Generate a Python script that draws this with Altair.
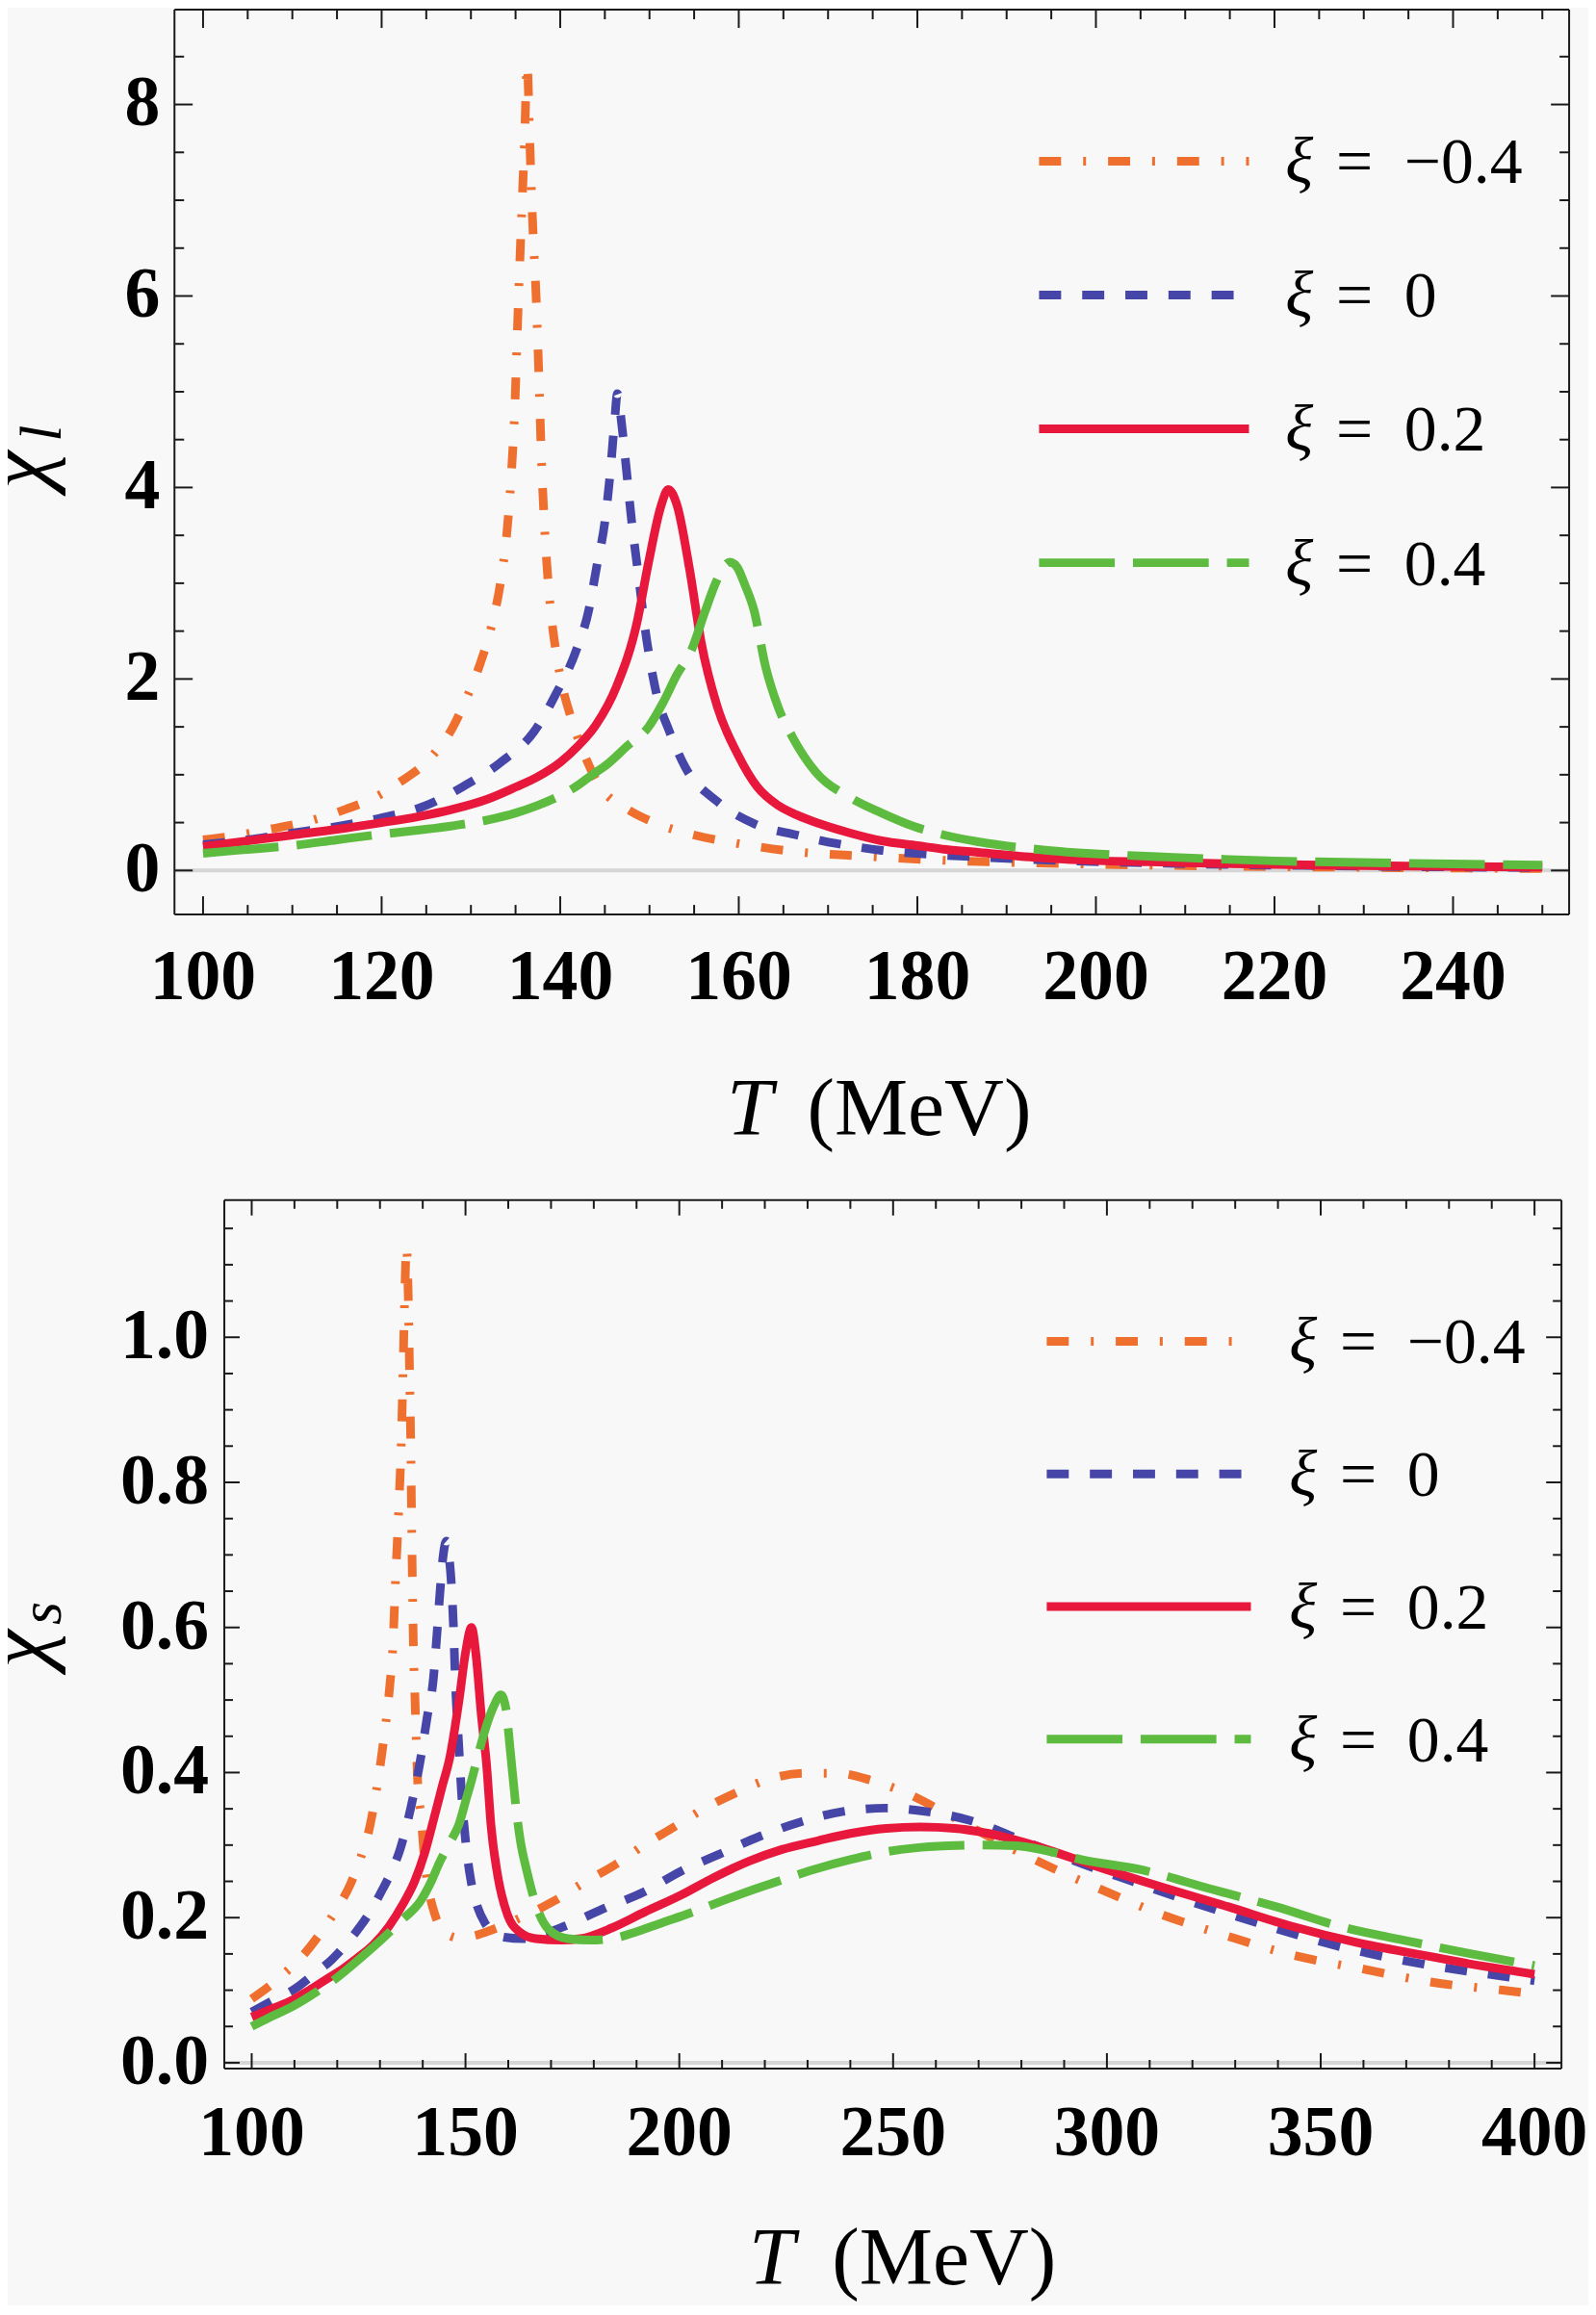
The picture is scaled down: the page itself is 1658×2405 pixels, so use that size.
import altair as alt
import pandas as pd

# ---------------- data: chi_l (top panel) ----------------
tl_m04 = [100, 104, 108, 112, 116, 119.2, 122, 125.5, 128, 129.6, 131, 132.3, 133.3, 134, 134.5, 134.9, 135.3, 135.7, 136.0, 136.3, 136.6, 136.9, 137.3, 137.6, 137.9, 138.3, 138.8, 139.5, 140.3, 141.1, 142.7, 144.5, 147.2, 150.8, 155, 160, 166, 174, 182, 190, 200, 215, 230, 250]
cl_m04 = [0.32, 0.37, 0.44, 0.52, 0.64, 0.76, 0.92, 1.18, 1.5, 1.82, 2.15, 2.55, 3.0, 3.5, 4.1, 4.8, 5.9, 6.9, 7.6, 8.42, 7.6, 6.8, 6.0, 5.2, 4.3, 3.5, 2.85, 2.3, 1.9, 1.63, 1.21, 0.87, 0.66, 0.49, 0.37, 0.28, 0.2, 0.15, 0.11, 0.085, 0.065, 0.045, 0.032, 0.02]

tl_0 = [100, 105, 110, 115, 120, 125, 129, 133.2, 137.3, 139.5, 141.8, 143.2, 144.1, 145, 145.6, 146.1, 146.4, 146.9, 147.4, 148, 148.6, 149.7, 150.8, 152.2, 154, 157.6, 161.7, 166.5, 171, 176, 181, 186, 194, 201, 210, 225, 250]
cl_0 = [0.27, 0.32, 0.39, 0.46, 0.55, 0.68, 0.87, 1.12, 1.48, 1.84, 2.3, 2.72, 3.18, 3.64, 4.15, 4.7, 4.98, 4.65, 4.2, 3.65, 3.2, 2.4, 1.84, 1.46, 1.08, 0.72, 0.49, 0.37, 0.28, 0.21, 0.17, 0.145, 0.11, 0.09, 0.07, 0.05, 0.03]

tl_02 = [100, 105, 110, 115, 120, 124, 128, 132, 135, 137.5, 140, 142, 144, 146.3, 148.6, 149.9, 151.3, 152.1, 153.1, 154.5, 155.8, 157.6, 159.9, 162.1, 164.4, 166.5, 169, 172.5, 176, 180, 183.2, 186.8, 194, 201, 206, 215, 225, 235, 250]
cl_02 = [0.25, 0.31, 0.37, 0.43, 0.5, 0.56, 0.64, 0.75, 0.87, 0.98, 1.13, 1.3, 1.52, 1.92, 2.59, 3.22, 3.81, 3.98, 3.81, 3.14, 2.38, 1.71, 1.21, 0.87, 0.68, 0.58, 0.49, 0.39, 0.31, 0.26, 0.22, 0.19, 0.13, 0.1, 0.09, 0.07, 0.055, 0.045, 0.035]

tl_04 = [100, 105, 110, 115, 119.2, 124, 128.2, 132, 135, 137.5, 139.5, 141.5, 143.6, 145.4, 147.5, 149.9, 151.5, 153.1, 154.7, 156.2, 157.4, 158.3, 159, 159.8, 160.7, 161.7, 163, 164.4, 166.1, 168.6, 172.5, 176, 179.6, 183, 186.8, 194.6, 203, 208, 220, 235, 250]
cl_04 = [0.18, 0.22, 0.26, 0.32, 0.37, 0.42, 0.47, 0.53, 0.6, 0.68, 0.76, 0.86, 1.0, 1.12, 1.3, 1.5, 1.75, 2.05, 2.3, 2.7, 3.0, 3.17, 3.22, 3.17, 2.98, 2.72, 2.13, 1.71, 1.38, 1.03, 0.76, 0.6, 0.46, 0.37, 0.3, 0.21, 0.16, 0.14, 0.1, 0.075, 0.055]

# ---------------- data: chi_s (bottom panel) ----------------
ts_m04 = [100, 104, 108, 112, 116, 120, 123, 125.5, 127.6, 129.1, 130.3, 131.4, 132.3, 133, 133.6, 134.4, 135, 135.4, 135.8, 136.2, 136.6, 136.9, 137.2, 137.5, 137.8, 138.2, 138.8, 139.6, 140.5, 141.5, 142.8, 145, 148.5, 152, 157, 164, 171, 177.6, 185, 192, 198.8, 206, 213.2, 221, 229, 237, 245, 253, 262, 272, 282, 290, 298.6, 312, 328, 343, 360, 376, 392.5, 400]
cs_m04 = [0.088, 0.105, 0.125, 0.148, 0.178, 0.213, 0.245, 0.283, 0.325, 0.373, 0.42, 0.47, 0.52, 0.572, 0.66, 0.765, 0.858, 0.955, 1.06, 1.125, 1.06, 0.96, 0.85, 0.7, 0.58, 0.5, 0.39, 0.34, 0.275, 0.235, 0.205, 0.18, 0.172, 0.175, 0.185, 0.203, 0.224, 0.248, 0.273, 0.301, 0.325, 0.351, 0.372, 0.391, 0.399, 0.399, 0.389, 0.372, 0.345, 0.313, 0.283, 0.261, 0.239, 0.206, 0.175, 0.149, 0.129, 0.111, 0.1, 0.095]

ts_0 = [100, 105, 110.4, 114.5, 118.7, 122, 125.4, 128, 130.6, 132.8, 134.7, 137.3, 139.2, 141, 142.5, 143.3, 144, 144.8, 145.5, 146.3, 146.8, 147.2, 147.6, 148.5, 149.1, 150, 151.3, 152.8, 154.5, 157, 159, 163.4, 168, 173.1, 182.1, 191.6, 200.4, 209.2, 218.8, 228.4, 238, 248.4, 258, 268, 280.4, 297.2, 306, 315.7, 335.1, 354.5, 373.9, 394.1, 400]
cs_0 = [0.07, 0.086, 0.103, 0.122, 0.142, 0.163, 0.188, 0.211, 0.239, 0.265, 0.294, 0.354, 0.409, 0.475, 0.53, 0.589, 0.646, 0.7, 0.719, 0.69, 0.65, 0.6, 0.53, 0.43, 0.369, 0.307, 0.25, 0.215, 0.193, 0.178, 0.173, 0.171, 0.177, 0.188, 0.212, 0.235, 0.264, 0.287, 0.312, 0.332, 0.346, 0.351, 0.346, 0.334, 0.306, 0.268, 0.25, 0.23, 0.193, 0.16, 0.136, 0.118, 0.113]

ts_02 = [100, 105, 109.7, 113.5, 117.2, 121, 124.6, 128.5, 132.1, 135.5, 138.1, 140.5, 142.5, 144.5, 146.3, 148.5, 150, 151.4, 152.5, 153.7, 154.9, 156, 157.5, 159.7, 162.7, 166.4, 172.4, 176.9, 184.3, 192, 200.4, 208, 216.4, 224, 232.4, 240, 248.4, 256.4, 264.4, 272.4, 284.4, 296.4, 313.5, 328.4, 343.3, 358.3, 373.2, 388.1, 400]
cs_02 = [0.063, 0.075, 0.087, 0.1, 0.114, 0.128, 0.144, 0.163, 0.188, 0.22, 0.25, 0.29, 0.334, 0.38, 0.42, 0.5, 0.565, 0.6, 0.56, 0.479, 0.413, 0.325, 0.259, 0.206, 0.18, 0.171, 0.169, 0.171, 0.186, 0.208, 0.231, 0.255, 0.278, 0.294, 0.306, 0.316, 0.323, 0.325, 0.323, 0.316, 0.297, 0.273, 0.241, 0.215, 0.188, 0.166, 0.149, 0.133, 0.122]

ts_04 = [100, 104, 109.7, 115, 120.1, 125, 130.6, 135, 139.6, 142, 144, 146.5, 148.5, 150, 151.5, 153, 154.5, 156.5, 158.3, 159.4, 160.4, 161.9, 163, 164.2, 166.4, 169.4, 173.9, 179.1, 185.8, 189.2, 196, 202.8, 210, 218, 225, 232.4, 240, 247.6, 255, 262.8, 270, 278.8, 286, 294, 308, 324.6, 339.6, 354.5, 369.4, 384.4, 400]
cs_04 = [0.05, 0.062, 0.078, 0.097, 0.118, 0.142, 0.171, 0.196, 0.224, 0.25, 0.277, 0.305, 0.329, 0.36, 0.391, 0.425, 0.457, 0.49, 0.507, 0.49, 0.435, 0.347, 0.3, 0.268, 0.219, 0.184, 0.171, 0.169, 0.173, 0.179, 0.193, 0.207, 0.223, 0.24, 0.254, 0.268, 0.28, 0.29, 0.296, 0.299, 0.3, 0.299, 0.292, 0.28, 0.266, 0.239, 0.215, 0.188, 0.169, 0.151, 0.134]

# legend values and tick labels
xi_values = ["\u22120.4", "0", "0.2", "0.4"]
top_x_labels = [100, 120, 140, 160, 180, 200, 220, 240]
top_y_labels = [0, 2, 4, 6, 8]
bot_x_labels = [100, 150, 200, 250, 300, 350, 400]
bot_y_labels = [0.0, 0.2, 0.4, 0.6, 0.8, 1.0]

# ---------------- styles ----------------
COLORS = ["#EF6F2E", "#4646A8", "#E8173C", "#5DBB3F"]
DASHES = [[23, 23, 3, 23], [23, 22], None, [79, 19]]
LW = 9
SERIF = "Liberation Serif"
BG = "#f8f8f8"
INK = "#1a1a1a"
LABEL_SIZE = 74
CHI_SIZE = 92
SUB_SIZE = 62
CHI_X = -133


def frame_rules(x0, W, H):
    out = []
    for xv in (x0, W):
        out.append(alt.Chart(pd.DataFrame({"f": [0]})).mark_rule(color=INK, strokeWidth=2).encode(
            x=alt.value(xv), y=alt.value(0), y2=alt.value(H)))
    for yv in (0, H):
        out.append(alt.Chart(pd.DataFrame({"f": [0]})).mark_rule(color=INK, strokeWidth=2).encode(
            x=alt.value(x0), x2=alt.value(W), y=alt.value(yv)))
    return out


def rule_ticks(vals, side, length, x0, W, H, xs, ys):
    df = pd.DataFrame({"v": vals})
    base = alt.Chart(df).mark_rule(color=INK, strokeWidth=2)
    if side == "bottom":
        return base.encode(x=alt.X("v:Q", scale=xs, axis=None), y=alt.value(H), y2=alt.value(H - length))
    if side == "top":
        return base.encode(x=alt.X("v:Q", scale=xs, axis=None), y=alt.value(0), y2=alt.value(length))
    if side == "left":
        return base.encode(y=alt.Y("v:Q", scale=ys, axis=None), x=alt.value(x0), x2=alt.value(x0 + length))
    return base.encode(y=alt.Y("v:Q", scale=ys, axis=None), x=alt.value(W), x2=alt.value(W - length))


def text_at(s, x, y, size, italic=False, align="left", angle=0, baseline="alphabetic"):
    kw = dict(font=SERIF, fontSize=size, align=align, baseline=baseline, color="#000")
    if italic:
        kw["fontStyle"] = "italic"
    if angle:
        kw["angle"] = angle
    return alt.Chart(pd.DataFrame({"t": [s]})).mark_text(**kw).encode(
        x=alt.value(x), y=alt.value(y), text="t:N")


def panel(Ts, Vs, cfg):
    x0, W, H = cfg["x0"], cfg["W"], cfg["H"]
    xs = alt.Scale(domain=cfg["xdom"], range=[x0, W], nice=False, zero=False)
    ys = alt.Scale(domain=cfg["ydom"], nice=False, zero=False)
    layers = []
    # light zero axis line
    layers.append(alt.Chart(pd.DataFrame({"z": [0]})).mark_rule(color="#d6d6d6", strokeWidth=4).encode(
        x=alt.value(x0), x2=alt.value(W), y=alt.Y("z:Q", scale=ys, axis=None)))
    for i in range(4):
        df = pd.DataFrame({"T": Ts[i], "v": Vs[i]})
        mk = dict(color=COLORS[i], strokeWidth=LW, interpolate="monotone", clip=True)
        if DASHES[i]:
            mk["strokeDash"] = DASHES[i]
        layers.append(alt.Chart(df).mark_line(**mk).encode(
            x=alt.X("T:Q", scale=xs, axis=None),
            y=alt.Y("v:Q", scale=ys, axis=None),
            order="T:Q"))
    layers += frame_rules(x0, W, H)
    # inward frame ticks on all four sides
    Lmaj, Lmin = cfg["tick"]
    for side in ("bottom", "top"):
        layers.append(rule_ticks(cfg["xlab"], side, Lmaj, x0, W, H, xs, ys))
        layers.append(rule_ticks(cfg["xmin"], side, Lmin, x0, W, H, xs, ys))
    for side in ("left", "right"):
        layers.append(rule_ticks(cfg["ylab"], side, Lmaj, x0, W, H, xs, ys))
        layers.append(rule_ticks(cfg["ymin"], side, Lmin, x0, W, H, xs, ys))
    # tick labels (bold serif)
    dfx = pd.DataFrame({"v": cfg["xlab"], "lab": [str(v) for v in cfg["xlab"]]})
    layers.append(alt.Chart(dfx).mark_text(font=SERIF, fontWeight="bold", fontSize=LABEL_SIZE, align="center",
                                           baseline="alphabetic", color="#000").encode(
        x=alt.X("v:Q", scale=xs, axis=None), y=alt.value(H + cfg["xbase"]), text="lab:N"))
    dfy = pd.DataFrame({"v": cfg["ylab"], "lab": [cfg["yfmt"].format(v) for v in cfg["ylab"]]})
    layers.append(alt.Chart(dfy).mark_text(font=SERIF, fontWeight="bold", fontSize=LABEL_SIZE, align="right",
                                           baseline="middle", color="#000").encode(
        y=alt.Y("v:Q", scale=ys, axis=None), x=alt.value(x0 - cfg["ypad"]), text="lab:N"))
    # x title: T (MeV)
    tb = H + cfg["tbase"]
    layers.append(text_at("T", x0 + cfg["tx"], tb, 86, italic=True, align="right"))
    layers.append(text_at("(MeV)", x0 + cfg["mx"], tb, 86, align="left"))
    # y title: chi with subscript
    layers.append(text_at("\u03c7", CHI_X, cfg["chiy"], CHI_SIZE, italic=True, align="center", angle=270))
    layers.append(text_at(cfg["sub"], CHI_X + 14, cfg["suby"], SUB_SIZE, italic=True, align="center", angle=270))
    # legend
    lg = cfg["leg"]
    for i in range(4):
        r = lg["rows"][i]
        mk = dict(color=COLORS[i], strokeWidth=LW)
        if DASHES[i]:
            mk["strokeDash"] = DASHES[i]
        layers.append(alt.Chart(pd.DataFrame({"s": [xi_values[i]]})).mark_rule(**mk).encode(
            x=alt.value(x0 + lg["x0"]), x2=alt.value(x0 + lg["x1"]), y=alt.value(r)))
        layers.append(text_at("\u03be", x0 + lg["xi"], r + 23, 68, italic=True))
        layers.append(text_at("=", x0 + lg["eq"], r + 23, 68))
        layers.append(text_at(xi_values[i], x0 + lg["val"], r + 23, 68))
    return alt.layer(*layers).properties(width=W, height=H)


top_cfg = dict(
    x0=0, W=1455, H=944, xdom=[96.8, 253.0], ydom=[-0.46, 8.99],
    xlab=top_x_labels, ylab=top_y_labels, yfmt="{:d}", xbase=88, ypad=15,
    xmin=[v for v in range(105, 255, 5) if v % 20 != 0],
    ymin=[k * 0.5 for k in range(1, 18) if k % 4 != 0],
    tick=(19, 10), tbase=230, tx=624, mx=660,
    chiy=480, sub="l", suby=442,
    leg=dict(x0=902, x1=1121, xi=1159, eq=1212, val=1283, rows=[158, 297.6, 437.3, 577]),
)
bot_cfg = dict(
    x0=52, W=1447, H=906, xdom=[93.6, 406.3], ydom=[-0.008, 1.189],
    xlab=bot_x_labels, ylab=bot_y_labels, yfmt="{:.1f}", xbase=90, ypad=16,
    xmin=[v for v in range(110, 400, 10) if v % 50 != 0],
    ymin=[round(k * 0.05, 2) for k in range(1, 24) if k % 4 != 0],
    tick=(16, 9), tbase=225, tx=595, mx=634,
    chiy=468, sub="s", suby=431,
    leg=dict(x0=858, x1=1071, xi=1111, eq=1164, val=1234, rows=[147.4, 285.7, 424, 562.3]),
)

top = panel([tl_m04, tl_0, tl_02, tl_04], [cl_m04, cl_0, cl_02, cl_04], top_cfg)
bottom = panel([ts_m04, ts_0, ts_02, ts_04], [cs_m04, cs_0, cs_02, cs_04], bot_cfg)

chart = alt.vconcat(top, bottom, spacing=50).properties(
    padding={"left": -33, "top": -4, "right": 0, "bottom": 0},
    background=BG,
).configure_view(strokeWidth=0, fill=BG)

chart.save("out.html", embed_options={"renderer": "svg", "actions": False})
